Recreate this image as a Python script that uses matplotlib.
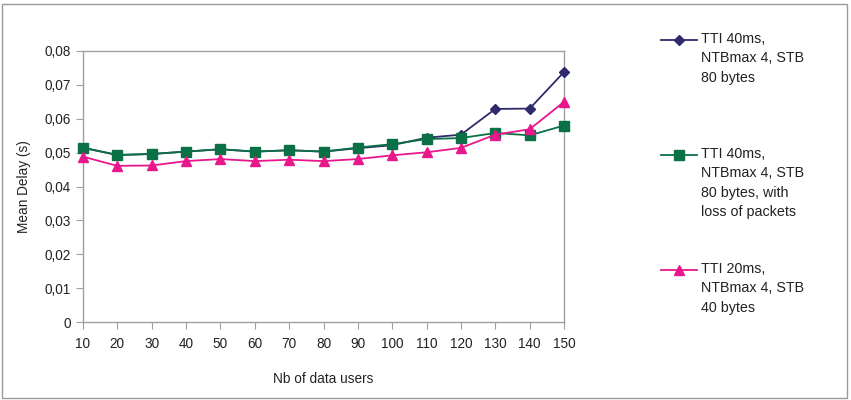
import matplotlib
matplotlib.use("Agg")
import matplotlib.pyplot as plt
from matplotlib.lines import Line2D
from matplotlib.patches import Rectangle
from matplotlib.ticker import FuncFormatter

plt.rcParams['font.family'] = ['Liberation Sans', 'DejaVu Sans']

users = [10, 20, 30, 40, 50, 60, 70, 80, 90, 100, 110, 120, 130, 140, 150]
tti40 = [0.0514, 0.0493, 0.0496, 0.0503, 0.0510, 0.0503, 0.0507, 0.0503, 0.0513,
         0.0522, 0.0544, 0.0553, 0.0629, 0.0630, 0.0738]
tti40_loss = [0.0515, 0.0493, 0.0496, 0.0503, 0.0510, 0.0503, 0.0507, 0.0503, 0.0515,
              0.0525, 0.0540, 0.0543, 0.0558, 0.0551, 0.0580]
tti20 = [0.0488, 0.0461, 0.0462, 0.0475, 0.0481, 0.0475, 0.0479, 0.0475, 0.0481,
         0.0492, 0.0501, 0.0514, 0.0553, 0.0569, 0.0650]

labels = ["TTI 40ms,\nNTBmax 4, STB\n80 bytes",
          "TTI 40ms,\nNTBmax 4, STB\n80 bytes, with\nloss of packets",
          "TTI 20ms,\nNTBmax 4, STB\n40 bytes"]
series = [tti40, tti40_loss, tti20]
colors = ['#2f2a6b', '#0a7046', '#e8178c']
markers = ['D', 's', '^']
msizes = [5.5, 7, 7]

fig = plt.figure(figsize=(8.51, 4.0), dpi=100)
ax = fig.add_axes([0.0975, 0.195, 0.5653, 0.6775])

xs = list(range(len(users)))
for ys, c, m, ms in zip(series, colors, markers, msizes):
    ax.plot(xs, ys, color=c, marker=m, markersize=ms, linewidth=1.3,
            markeredgecolor=c, clip_on=False, zorder=3)

ax.set_xlim(0, len(users) - 1)
ax.set_ylim(0, 0.08)
ax.set_xticks(xs)
ax.set_xticklabels([str(u) for u in users])
ax.set_yticks([i * 0.01 for i in range(9)])
ax.yaxis.set_major_formatter(FuncFormatter(
    lambda v, p: "0" if abs(v) < 1e-9 else f"{v:.2f}".replace('.', ',')))

for s in ax.spines.values():
    s.set_color('#a0a0a0')
    s.set_linewidth(1.0)
ax.tick_params(axis='both', colors='#a0a0a0', labelcolor='#222222',
               labelsize=9.8, length=5, direction='out')
ax.tick_params(axis='x', pad=6)
ax.set_xlabel("Nb of data users", fontsize=9.8, color='#222222', labelpad=15)
ax.set_ylabel("Mean Delay (s)", fontsize=9.8, color='#222222', labelpad=10)

# custom legend (figure coordinates)
W, H = 851.0, 400.0
ys_top = [40, 155, 270]
for lab, c, m, ms, yt in zip(labels, colors, markers, msizes, ys_top):
    yy = 1 - yt / H
    fig.add_artist(Line2D([661 / W, 697 / W], [yy, yy], color=c, linewidth=1.3,
                          transform=fig.transFigure))
    fig.add_artist(Line2D([679 / W], [yy], color=c, marker=m, markersize=ms - 0.5,
                          markeredgecolor=c, transform=fig.transFigure))
    fig.text(701 / W, yy + 8 / H, lab, fontsize=10.3, color='#222222',
             va='top', ha='left', linespacing=1.48)

fig.add_artist(Rectangle((2 / W, 2 / H), 845 / W, 394 / H, fill=False,
                         edgecolor='#999999', linewidth=1.0,
                         transform=fig.transFigure))

fig.savefig("out.png", dpi=100)
